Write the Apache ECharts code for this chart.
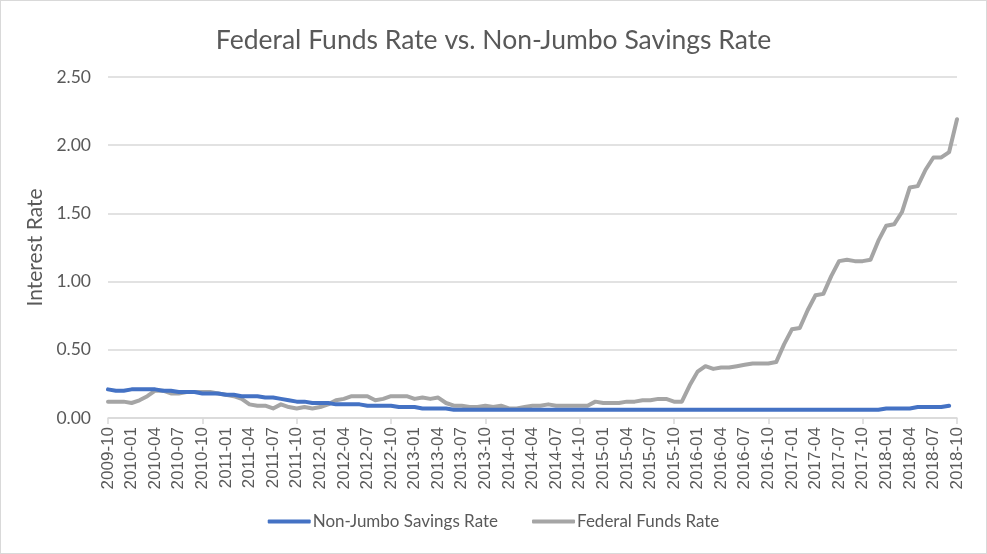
<!DOCTYPE html>
<html>
<head>
<meta charset="utf-8">
<script src="https://cdn.jsdelivr.net/npm/echarts@6/dist/echarts.min.js"></script>
<style>
  html, body { margin: 0; padding: 0; background: #fff; }
  #chart { width: 985px; height: 552px; border: 1px solid #d9d9d9; }
</style>
</head>
<body>
<div id="chart"></div>
<script>
// monthly, 2009-10 .. 2018-10
const months = [];
for (let y = 2009, m = 10; y < 2018 || (y === 2018 && m <= 10); m++) {
  if (m > 12) { m = 1; y++; }
  months.push(y + "-" + String(m).padStart(2, "0"));
}

const savingsRate = [
  0.21, 0.20, 0.20, 0.21, 0.21, 0.21, 0.21, 0.20, 0.20,
  0.19, 0.19, 0.19, 0.18, 0.18, 0.18,
  0.17, 0.17, 0.16, 0.16, 0.16, 0.15, 0.15, 0.14, 0.13, 0.12, 0.12, 0.11,
  0.11, 0.11, 0.10, 0.10, 0.10, 0.10, 0.09, 0.09, 0.09, 0.09, 0.08, 0.08,
  0.08, 0.07, 0.07, 0.07, 0.07, 0.06, 0.06, 0.06, 0.06, 0.06, 0.06, 0.06,
  0.06, 0.06, 0.06, 0.06, 0.06, 0.06, 0.06, 0.06, 0.06, 0.06, 0.06, 0.06,
  0.06, 0.06, 0.06, 0.06, 0.06, 0.06, 0.06, 0.06, 0.06, 0.06, 0.06, 0.06,
  0.06, 0.06, 0.06, 0.06, 0.06, 0.06, 0.06, 0.06, 0.06, 0.06, 0.06, 0.06,
  0.06, 0.06, 0.06, 0.06, 0.06, 0.06, 0.06, 0.06, 0.06, 0.06, 0.06, 0.06,
  0.07, 0.07, 0.07, 0.07, 0.08, 0.08, 0.08, 0.08, 0.09,
];

const fedFundsRate = [
  0.12, 0.12, 0.12,
  0.11, 0.13, 0.16, 0.20, 0.20, 0.18, 0.18, 0.19, 0.19, 0.19, 0.19, 0.18,
  0.17, 0.16, 0.14, 0.10, 0.09, 0.09, 0.07, 0.10, 0.08, 0.07, 0.08, 0.07,
  0.08, 0.10, 0.13, 0.14, 0.16, 0.16, 0.16, 0.13, 0.14, 0.16, 0.16, 0.16,
  0.14, 0.15, 0.14, 0.15, 0.11, 0.09, 0.09, 0.08, 0.08, 0.09, 0.08, 0.09,
  0.07, 0.07, 0.08, 0.09, 0.09, 0.10, 0.09, 0.09, 0.09, 0.09, 0.09, 0.12,
  0.11, 0.11, 0.11, 0.12, 0.12, 0.13, 0.13, 0.14, 0.14, 0.12, 0.12, 0.24,
  0.34, 0.38, 0.36, 0.37, 0.37, 0.38, 0.39, 0.40, 0.40, 0.40, 0.41, 0.54,
  0.65, 0.66, 0.79, 0.90, 0.91, 1.04, 1.15, 1.16, 1.15, 1.15, 1.16, 1.30,
  1.41, 1.42, 1.51, 1.69, 1.70, 1.82, 1.91, 1.91, 1.95, 2.19,
];

const font = "Lato, 'Open Sans', sans-serif";
const textColor = "#595959";
const chart = echarts.init(document.getElementById("chart"));
chart.setOption({
  animation: false,
  title: {
    text: "Federal Funds Rate vs. Non-Jumbo Savings Rate",
    left: "center", top: 21,
    textStyle: { fontFamily: font, fontSize: 26.5, fontWeight: "normal", color: textColor },
  },
  legend: {
    bottom: 18, left: "center", itemWidth: 43, itemHeight: 4, itemGap: 34,
    icon: "roundRect",
    textStyle: { fontFamily: font, fontSize: 17, color: textColor, padding: [0, 0, 0, -3] },
    data: ["Non-Jumbo Savings Rate", "Federal Funds Rate"],
  },
  grid: { left: 107, right: 29, top: 76, bottom: 135 },
  xAxis: {
    type: "category", data: months, boundaryGap: false,
    axisLine: { lineStyle: { color: "#d9d9d9", width: 1.5 } },
    axisTick: { interval: 11, length: 6, lineStyle: { color: "#d9d9d9", width: 1.5 } },
    axisLabel: { interval: 2, rotate: 90, margin: 9, fontFamily: "'Liberation Sans', Arial, sans-serif", fontSize: 17, color: textColor },
  },
  yAxis: {
    type: "value", min: 0, max: 2.5, interval: 0.5,
    name: "Interest Rate", nameLocation: "middle", nameGap: 56, nameRotate: 90,
    nameTextStyle: { fontFamily: font, fontSize: 21, color: textColor },
    axisLabel: { formatter: (v) => v.toFixed(2), margin: 17, fontFamily: font, fontSize: 17.5, color: textColor },
    splitLine: { lineStyle: { color: "#d9d9d9", width: 1.5 } },
  },
  series: [
    { name: "Non-Jumbo Savings Rate", type: "line", data: savingsRate, showSymbol: false, z: 3,
      itemStyle: { color: "#4472C4" }, lineStyle: { width: 4, cap: "round", join: "round" } },
    { name: "Federal Funds Rate", type: "line", data: fedFundsRate, showSymbol: false, z: 2,
      itemStyle: { color: "#A5A5A5" }, lineStyle: { width: 4, cap: "round", join: "round" } },
  ],
});
</script>
</body>
</html>
